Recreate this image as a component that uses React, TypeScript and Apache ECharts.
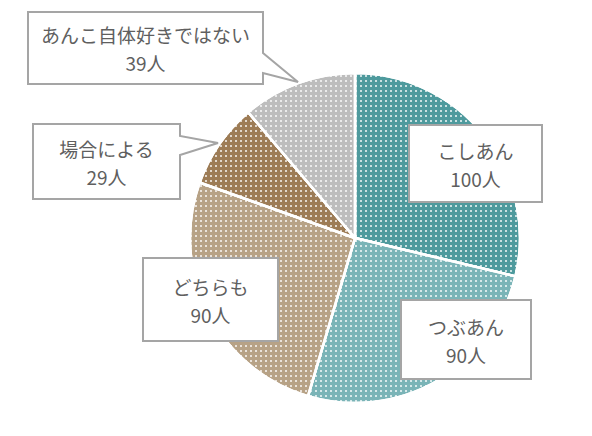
import React, { useEffect, useRef } from "react";
import * as echarts from "echarts";

const categories = ["こしあん", "つぶあん", "どちらも", "場合による", "あんこ自体好きではない"];
const values = [100, 90, 90, 29, 39];
const unit = "人";
const colors = ["#4e9a9d", "#7ab4b7", "#b7a286", "#9d7c56", "#bdbdbd"];

// callout outlines (layout only), indexed like categories
const callouts: number[][][] = [
  [[409, 125], [542, 125], [542, 202], [409, 202]],
  [[401, 300], [531, 300], [531, 379], [401, 379]],
  [[143, 258], [278, 258], [278, 341], [143, 341]],
  [[33, 124], [180, 124], [180, 136], [218, 143], [180, 155], [180, 199], [33, 199]],
  [[28, 12], [263, 12], [263, 53], [298, 82], [263, 73], [263, 84], [28, 84]],
];
const textCenters: number[][] = [
  [475.5, 164],
  [466, 340],
  [210.5, 300],
  [106.5, 162],
  [145.5, 48.5],
];

export default function App() {
  const ref = useRef<HTMLDivElement>(null);
  useEffect(() => {
    if (!ref.current) return;
    const chart = echarts.init(ref.current, null, { renderer: "svg" });
    const font = '19px "Noto Sans CJK JP", "Noto Sans", sans-serif';
    const half = 14;
    const graphics: any[] = [];
    categories.forEach((name, i) => {
      graphics.push({
        type: "polygon",
        z: 10,
        shape: { points: callouts[i] },
        style: { fill: "#ffffff", stroke: "#a5a5a5", lineWidth: 2 },
      });
      const lines = [name, values[i] + unit];
      lines.forEach((t, k) => {
        graphics.push({
          type: "text",
          z: 11,
          x: textCenters[i][0],
          y: textCenters[i][1] + (k === 0 ? -half : half),
          style: {
            text: t,
            align: "center",
            verticalAlign: "middle",
            font,
            fill: "#5f5f5f",
          },
        });
      });
    });
    chart.setOption({
      animation: false,
      aria: { enabled: true, decal: { show: true } },
      graphic: graphics,
      series: [
        {
          type: "pie",
          center: [355, 238],
          radius: 165,
          startAngle: 90,
          clockwise: true,
          label: { show: false },
          labelLine: { show: false },
          emphasis: { disabled: true },
          data: categories.map((name, i) => ({
            name,
            value: values[i],
            itemStyle: {
              color: colors[i],
              borderColor: "#ffffff",
              borderWidth: 2.5,
              decal: {
                symbol: "rect",
                symbolSize: 1,
                color: "rgba(255,255,255,0.7)",
                dashArrayX: [2, 3],
                dashArrayY: [2, 3],
                rotation: 0,
              },
            },
          })),
        },
      ],
    });
    return () => chart.dispose();
  }, []);
  return (
    <div
      ref={ref}
      style={{ position: "fixed", left: 0, top: 0, width: 592, height: 436, background: "#ffffff" }}
    />
  );
}
